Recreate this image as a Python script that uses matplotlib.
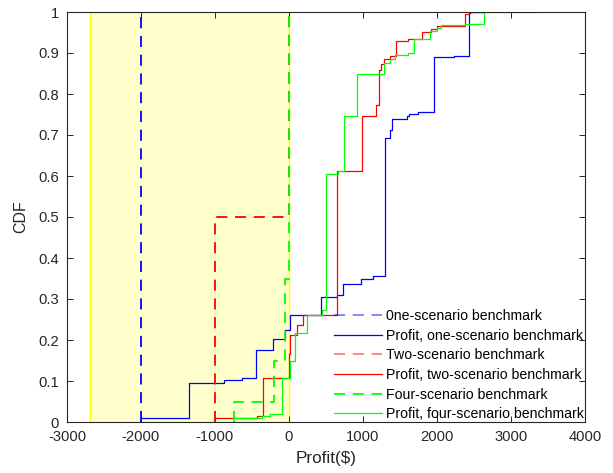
import numpy as np
import matplotlib
matplotlib.use("Agg")
from matplotlib import pyplot as plt

plt.rcParams['font.family'] = ['Liberation Sans', 'DejaVu Sans']
plt.rcParams['axes.unicode_minus'] = False
plt.rcParams['lines.scale_dashes'] = False

# benchmark CDFs (dashed)
one_x = [-2000, -2000]
one_y = [0, 1]
two_x = [-1000, -1000, 0, 0]
two_y = [0, 0.5, 0.5, 1]
four_x = [-750, -750, -200, -200, -50, -50, 0, 0]
four_y = [0, 0.05, 0.05, 0.15, 0.15, 0.35, 0.35, 1]

# profit CDFs (step, post)
p1_x = [-2000, -1347, -874, -639, -450, -212, -54, 10, 428, 653, 734, 969, 1131,
        1297, 1365, 1396, 1590, 1622, 1748, 1964, 2230, 2428, 2440, 2635]
p1_y = [0.01, 0.096, 0.102, 0.107, 0.176, 0.202, 0.224, 0.261, 0.304, 0.309, 0.336, 0.348, 0.355,
        0.692, 0.712, 0.738, 0.746, 0.75, 0.755, 0.89, 0.893, 0.997, 1.0, 1.0]
p2_x = [-1000, -437, -347, -225, 0, 8, 112, 193, 645, 982, 1176, 1221, 1240, 1288,
        1365, 1441, 1613, 1793, 1914, 1995, 2383, 2437, 2635]
p2_y = [0.01, 0.015, 0.107, 0.108, 0.167, 0.212, 0.237, 0.261, 0.611, 0.746, 0.773, 0.859, 0.874, 0.885,
        0.893, 0.93, 0.933, 0.951, 0.959, 0.966, 0.995, 1.0, 1.0]
p4_x = [-750, -370, -260, -100, 10, 81, 239, 441, 496, 666, 743, 923, 1288, 1365,
        1432, 1613, 1694, 1905, 1995, 2050, 2383, 2635, 3383]
p4_y = [0.01, 0.015, 0.02, 0.108, 0.148, 0.216, 0.261, 0.273, 0.606, 0.611, 0.746, 0.848, 0.875, 0.886,
        0.895, 0.899, 0.933, 0.954, 0.962, 0.968, 0.971, 1.0, 1.0]

labels = ['0ne-scenario benchmark', 'Profit, one-scenario benchmark',
          'Two-scenario benchmark', 'Profit, two-scenario benchmark',
          'Four-scenario benchmark', 'Profit, four-scenario benchmark']

fig = plt.figure(figsize=(6.13, 4.73), dpi=100)
ax = fig.add_axes([67/613, 51/473, 518/613, 410/473])

# loss region
ax.axvspan(-2690, 0, ymin=0, ymax=1, facecolor='#ffffcc', edgecolor='#ffff00', lw=1, zorder=0)

dash = (0, (8, 5.5))
ax.plot(one_x, one_y, color='blue', ls=dash, lw=1.3, label=labels[0])
ax.step(p1_x, p1_y, where='post', color='blue', lw=0.9, label=labels[1])
ax.plot(two_x, two_y, color='red', ls=dash, lw=1.3, label=labels[2])
ax.step(p2_x, p2_y, where='post', color='red', lw=0.9, label=labels[3])
ax.plot(four_x, four_y, color='#00ff00', ls=dash, lw=1.3, label=labels[4])
ax.step(p4_x, p4_y, where='post', color='#00ff00', lw=0.9, label=labels[5])

ax.set_xlim(-3000, 4000)
ax.set_ylim(0, 1)
ax.set_xticks(np.arange(-3000, 4001, 1000))
ax.set_yticks(np.arange(0, 1.01, 0.1))
ax.set_yticklabels(['0', '0.1', '0.2', '0.3', '0.4', '0.5', '0.6', '0.7', '0.8', '0.9', '1'])
ax.tick_params(direction='in', top=True, right=True, length=4, width=0.7,
               labelsize=10.6, colors='#262626', pad=6)
for s in ax.spines.values():
    s.set_linewidth(0.8)
    s.set_color('#262626')
ax.set_xlabel('Profit($)', fontsize=12.3, color='#262626', labelpad=5)
ax.set_ylabel('CDF', fontsize=11.5, color='#262626', labelpad=7)

leg = ax.legend(loc='lower right', frameon=False, fontsize=10.2, handlelength=3.4,
                handletextpad=0.3, labelspacing=0.4, borderaxespad=0.0, borderpad=0.05)
for h in [leg.legend_handles[0], leg.legend_handles[2]]:
    h.set_alpha(0.5)

plt.savefig("out.png", dpi=100)
